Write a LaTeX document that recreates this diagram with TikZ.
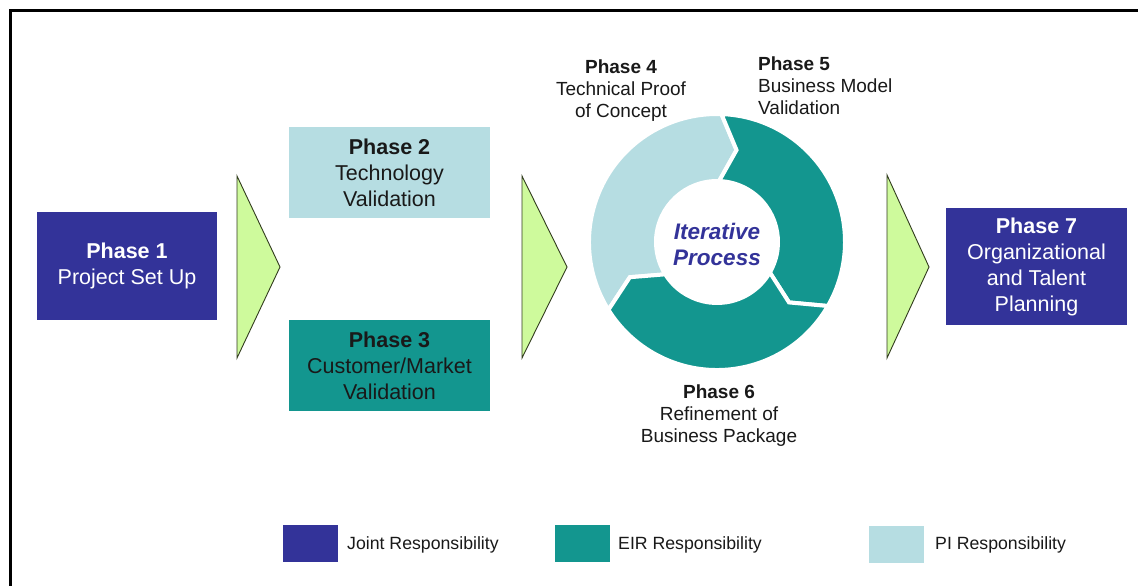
\documentclass[tikz,border=0pt]{standalone}
\usepackage{fontspec}
\setmainfont{Liberation Sans}
\definecolor{jointblue}{RGB}{51,51,153}
\definecolor{eirteal}{RGB}{19,150,143}
\definecolor{pilight}{RGB}{182,221,226}
\definecolor{chevgreen}{RGB}{206,250,156}
\definecolor{chevline}{RGB}{50,60,30}
\definecolor{txt}{RGB}{25,25,25}
\newcommand\ringseg[3]{%
  \filldraw[seg, fill=#3] (#1:\Ro) arc[start angle=#1, end angle=#2, radius=\Ro]
    -- (#2-10:\Rm) -- (#2:\Ri) arc[start angle=#2, end angle=#1, radius=\Ri]
    -- (#1-10:\Rm) -- cycle;}
\begin{document}
\begin{tikzpicture}[x=1pt,y=-1pt,
  phasebox/.style={rectangle, inner sep=0pt, align=center, font=\fontsize{21.5}{26}\selectfont},
  chev/.style={fill=chevgreen, draw=chevline, line width=0.9pt, line join=miter},
  seg/.style={draw=white, line width=4pt, line join=miter},
  lbl/.style={inner sep=0pt, text=txt, font=\fontsize{19}{22}\selectfont},
  legbox/.style={rectangle, minimum width=55, minimum height=37, inner sep=0pt},
  legtext/.style={anchor=west, inner sep=0pt, text=txt, font=\fontsize{17.7}{20}\selectfont}]
\useasboundingbox (0,0) rectangle (1138,586);
\fill[white] (0,0) rectangle (1138,586);
\draw[line width=3pt, line join=miter] (10,586) -- (10,11) -- (1138,11);

% phase boxes
\node[phasebox, fill=jointblue, text=white, minimum width=180, minimum height=108] (p1) at (127,266) {\textbf{Phase 1}\\Project Set Up};
\node[phasebox, fill=pilight, text=txt, minimum width=201, minimum height=91] (p2) at (389.5,172.5) {\textbf{Phase 2}\\Technology\\Validation};
\node[phasebox, fill=eirteal, text=txt, minimum width=201, minimum height=91] (p3) at (389.5,365.5) {\textbf{Phase 3}\\Customer/Market\\Validation};
\node[phasebox, fill=jointblue, text=white, minimum width=181, minimum height=117] (p7) at (1036.5,266.5) {\textbf{Phase 7}\\Organizational\\and Talent\\Planning};

% chevrons
\draw[chev] (237,176) -- (280,267) -- (237,358) -- cycle;
\draw[chev] (522,176) -- (567,267) -- (522,358) -- cycle;
\draw[chev] (887,175) -- (929,267) -- (887,358) -- cycle;

% iterative ring
\begin{scope}[shift={(717,242)}]
  \def\Ro{128pt}\def\Ri{61pt}\def\Rm{94pt}
  \ringseg{212}{88}{pilight}
  \ringseg{88}{-30}{eirteal}
  \ringseg{-30}{-148}{eirteal}
\end{scope}
\node[inner sep=0pt, align=center, text=jointblue, font=\fontsize{22.5}{26}\selectfont\bfseries\itshape] (iter) at (717,244) {Iterative\\Process};

% phase labels round the ring
\node[lbl, align=center] (l4) at (621,91) {\textbf{Phase 4}\\Technical Proof\\of Concept};
\node[lbl, align=left, anchor=west] (l5) at (758,86) {\textbf{Phase 5}\\Business Model\\Validation};
\node[lbl, align=center] (l6) at (719,416) {\textbf{Phase 6}\\Refinement of\\Business Package};

% legend
\node[legbox, fill=jointblue] (lg1) at (310.5,543.5) {};
\node[legtext] (lt1) at (347,545) {Joint Responsibility};
\node[legbox, fill=eirteal] (lg2) at (582,543.5) {};
\node[legtext] (lt2) at (618,545) {EIR Responsibility};
\node[legbox, fill=pilight] (lg3) at (896.5,544) {};
\node[legtext] (lt3) at (935,545) {PI Responsibility};
\end{tikzpicture}
\end{document}
